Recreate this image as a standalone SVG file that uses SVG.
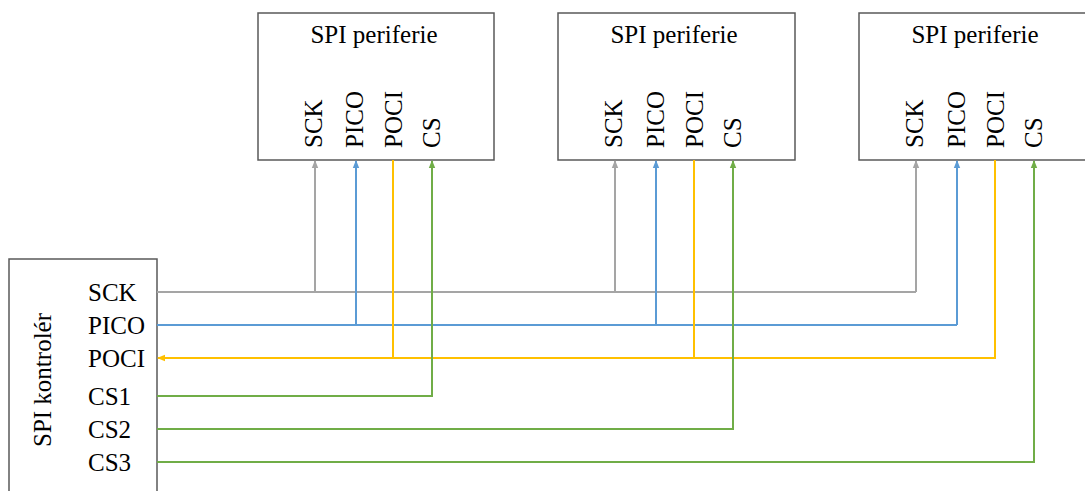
<svg xmlns="http://www.w3.org/2000/svg" width="1085" height="491" viewBox="0 0 1085 491">
<style>
.box{fill:#fff;stroke:#595959;stroke-width:1.5}
.t{font-family:"Liberation Serif","Times New Roman",serif;font-size:25px;fill:#000}
.w{fill:none;stroke-width:2}
.gray{stroke:#A5A5A5}
.blue{stroke:#5B9BD5}
.yel{stroke:#FFC000}
.grn{stroke:#70AD47}
</style>
<defs>
<marker id="ag" markerWidth="8" markerHeight="8" refX="7" refY="4" orient="auto" markerUnits="userSpaceOnUse"><path d="M0,0.8 L8,4 L0,7.2 Z" fill="#A5A5A5"/></marker>
<marker id="ab" markerWidth="8" markerHeight="8" refX="7" refY="4" orient="auto" markerUnits="userSpaceOnUse"><path d="M0,0.8 L8,4 L0,7.2 Z" fill="#5B9BD5"/></marker>
<marker id="ay" markerWidth="8" markerHeight="8" refX="7" refY="4" orient="auto" markerUnits="userSpaceOnUse"><path d="M0,0.8 L8,4 L0,7.2 Z" fill="#FFC000"/></marker>
<marker id="agr" markerWidth="8" markerHeight="8" refX="7" refY="4" orient="auto" markerUnits="userSpaceOnUse"><path d="M0,0.8 L8,4 L0,7.2 Z" fill="#70AD47"/></marker>
</defs>
<g id="periph1">
<rect class="box" x="258" y="13" width="236" height="147"/>
<text class="t" x="374" y="43" text-anchor="middle">SPI periferie</text>
<text class="t" transform="translate(322,148) rotate(-90)">SCK</text>
<text class="t" transform="translate(363,148) rotate(-90)">PICO</text>
<text class="t" transform="translate(402,148) rotate(-90)">POCI</text>
<text class="t" transform="translate(440,148) rotate(-90)">CS</text>
</g>
<g id="periph2">
<rect class="box" x="558" y="13" width="237" height="147"/>
<text class="t" x="674" y="43" text-anchor="middle">SPI periferie</text>
<text class="t" transform="translate(622,148) rotate(-90)">SCK</text>
<text class="t" transform="translate(664,148) rotate(-90)">PICO</text>
<text class="t" transform="translate(703,148) rotate(-90)">POCI</text>
<text class="t" transform="translate(741,148) rotate(-90)">CS</text>
</g>
<g id="periph3">
<rect class="box" x="859" y="13" width="236" height="147"/>
<text class="t" x="975" y="43" text-anchor="middle">SPI periferie</text>
<text class="t" transform="translate(923,148) rotate(-90)">SCK</text>
<text class="t" transform="translate(965,148) rotate(-90)">PICO</text>
<text class="t" transform="translate(1004,148) rotate(-90)">POCI</text>
<text class="t" transform="translate(1042,148) rotate(-90)">CS</text>
</g>
<g id="controller">
<rect class="box" x="9" y="259" width="148" height="250"/>
<text class="t" transform="translate(51,380) rotate(-90)" text-anchor="middle">SPI kontrolér</text>
<text class="t" x="88" y="301">SCK</text>
<text class="t" x="88" y="334">PICO</text>
<text class="t" x="88" y="367">POCI</text>
<text class="t" x="88" y="405">CS1</text>
<text class="t" x="88" y="438">CS2</text>
<text class="t" x="88" y="471">CS3</text>
</g>
<g id="connectors">
<path class="w gray" d="M157,292 H916"/>
<path class="w gray" d="M315,292 V161" marker-end="url(#ag)"/>
<path class="w gray" d="M615,292 V161" marker-end="url(#ag)"/>
<path class="w gray" d="M916,292 V161" marker-end="url(#ag)"/>
<path class="w blue" d="M157,325 H957"/>
<path class="w blue" d="M356,325 V161" marker-end="url(#ab)"/>
<path class="w blue" d="M656,325 V161" marker-end="url(#ab)"/>
<path class="w blue" d="M957,325 V161" marker-end="url(#ab)"/>
<path class="w yel" d="M393,160 V358"/>
<path class="w yel" d="M694,160 V358"/>
<path class="w yel" d="M995,160 V358 H158" marker-end="url(#ay)"/>
<path class="w grn" d="M157,396 H432 V161" marker-end="url(#agr)"/>
<path class="w grn" d="M157,429 H733 V161" marker-end="url(#agr)"/>
<path class="w grn" d="M157,462 H1034 V161" marker-end="url(#agr)"/>
</g>
</svg>
